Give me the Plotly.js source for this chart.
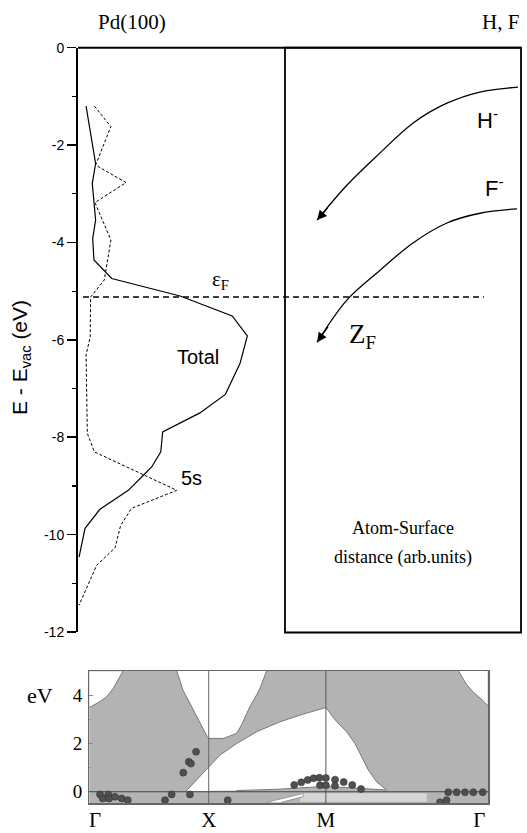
<!DOCTYPE html>
<html><head><meta charset="utf-8">
<script src="https://cdn.plot.ly/plotly-3.0.1.min.js"></script>
<style>html,body{margin:0;padding:0;background:#fff;}#chart{width:527px;height:833px;}</style>
</head><body><div id="chart"></div>
<script>
// ---------- Top panel: Pd(100) local density of states (E - E_vac, eV) ----------
const totalEnergy = [-1.2, -2.38, -2.79, -3.54, -3.92, -4.36, -4.74, -5.10, -5.51, -5.92, -6.48, -7.12, -7.5, -7.89, -8.30, -8.61, -8.78, -9.09, -9.48, -9.87, -10.46];
const totalDos    = [3.9, 8.5, 6.9, 8.5, 7.1, 7.7, 16.3, 49.3, 74.5, 81.8, 78.3, 71.2, 58.9, 40.9, 40.0, 35.6, 31.6, 24.3, 10.6, 3.4, 0.5];
const s5Energy = [-1.2, -1.62, -2.41, -2.77, -3.18, -3.95, -4.77, -5.12, -5.94, -6.31, -7.92, -8.30, -9.09, -9.46, -9.81, -10.27, -10.63, -11.45];
const s5Dos    = [7.9, 15.9, 8.5, 23.2, 8.2, 15.9, 12.7, 6.1, 5.9, 3.9, 4.5, 7.9, 47.7, 25.9, 20.6, 17.9, 9.0, 0.5];
const fermiEnergy = -5.12;
const energyTicks = [0, -2, -4, -6, -8, -10, -12];

// ---------- Right panel: schematic affinity levels vs atom-surface distance ----------
const hDistance = [98.7, 82.6, 68.6, 54.2, 40.3, 26.3, 13.6];
const hLevel    = [-0.81, -0.91, -1.14, -1.55, -2.16, -2.82, -3.54];
const fDistance = [98.3, 82.6, 68.6, 54.2, 40.3, 26.3, 13.6];
const fLevel    = [-3.31, -3.40, -3.60, -4.01, -4.57, -5.18, -6.05];

// ---------- Bottom panel: projected bulk bands of Pd(100) ----------
const kTickVals = [0.03, 1, 2, 3.31];
const kTickText = ['Γ', 'X', 'M', 'Γ'];
const eTickVals = [0, 2, 4];
const eTickText = ['0', '2', '4'];
// band gaps (white regions)
const gapAk = [-0.019, -0.004, 0.073, 0.13, 0.186, 0.229, 0.271, -0.019];
const gapAe = [3.5, 3.53, 3.74, 3.94, 4.29, 4.63, 5.02, 5.02];
const gapBk = [0.727, 0.78, 0.988, 1.0, 1.125, 1.239, 1.28, 1.352, 1.432, 1.495];
const gapBe = [5.02, 4.22, 2.28, 2.21, 2.21, 2.42, 2.77, 3.53, 4.22, 5.02];
const gapCk = [3.13, 3.20, 3.26, 3.315, 3.386, 3.386];
const gapCe = [5.02, 4.45, 4.12, 3.89, 3.55, 5.02];
const gapDk = [0.806, 1.005, 1.096, 1.239, 1.41, 1.608, 1.807, 2.0, 2.092, 2.177, 2.248, 2.305, 2.362, 2.433, 2.519, 2.25, 2.0, 1.81, 1.58, 1.24];
const gapDe = [0.02, 1.07, 1.52, 2.0, 2.49, 2.9, 3.22, 3.49, 2.9, 2.49, 2.0, 1.45, 0.9, 0.41, 0.07, 0.15, 0.22, 0.17, 0.1, 0.05];
const gapEk = [1.495, 1.807, 1.807, 1.62];
const gapEe = [-0.44, -0.07, -0.2, -0.44];
const lightK = [1.78, 2.86, 2.86, 1.78];
const lightE = [-0.06, -0.06, -0.42, -0.42];
// surface states (dots)
const ssK = [0.783, 0.83, 0.848, 0.892,
             1.73, 1.79, 1.845, 1.895, 1.945, 2.0, 2.078, 2.152, 2.225, 2.30,
             1.95, 2.0, 2.078,
             3.044, 3.116, 3.187, 3.258, 3.338, 2.974, 3.03,
             0.073, 0.096, 0.143, 0.15, 0.2, 0.258, 0.309, 0.627, 0.684, 0.84, 1.162];
const ssE = [0.79, 1.24, 1.17, 1.66,
             0.28, 0.39, 0.49, 0.56, 0.58, 0.57, 0.50, 0.40, 0.28, 0.11,
             0.27, 0.27, 0.25,
             -0.02, -0.02, -0.02, -0.02, -0.02, -0.44, -0.35,
             -0.11, -0.28, -0.11, -0.28, -0.21, -0.28, -0.35, -0.35, -0.11, -0.11, -0.35];

// ---------- layout helpers ----------
const W = 527, H = 833;
const fx = p => p / W;
const fy = p => 1 - p / H;
const SANS = 'Liberation Sans, Arial, sans-serif';
const SERIF = 'Liberation Serif, Times New Roman, serif';

const traces = [
  {x: totalDos, y: totalEnergy, xaxis: 'x', yaxis: 'y', mode: 'lines', line: {color: '#000', width: 1.2}},
  {x: s5Dos, y: s5Energy, xaxis: 'x', yaxis: 'y', mode: 'lines', line: {color: '#000', width: 1, dash: '3px,2px'}},
  {x: hDistance, y: hLevel, xaxis: 'x2', yaxis: 'y2', mode: 'lines', line: {color: '#000', width: 1.3, shape: 'spline'}},
  {x: fDistance, y: fLevel, xaxis: 'x2', yaxis: 'y2', mode: 'lines', line: {color: '#000', width: 1.3, shape: 'spline'}},
  {x: lightK, y: lightE, xaxis: 'x3', yaxis: 'y3', mode: 'lines', fill: 'toself', fillcolor: '#d6d6d6', line: {width: 0}},
  {x: gapAk, y: gapAe, xaxis: 'x3', yaxis: 'y3', mode: 'lines', fill: 'toself', fillcolor: '#fff', line: {color: '#777', width: 1}},
  {x: gapBk, y: gapBe, xaxis: 'x3', yaxis: 'y3', mode: 'lines', fill: 'toself', fillcolor: '#fff', line: {color: '#777', width: 1}},
  {x: gapCk, y: gapCe, xaxis: 'x3', yaxis: 'y3', mode: 'lines', fill: 'toself', fillcolor: '#fff', line: {color: '#777', width: 1}},
  {x: gapDk, y: gapDe, xaxis: 'x3', yaxis: 'y3', mode: 'lines', fill: 'toself', fillcolor: '#fff', line: {color: '#777', width: 1}},
  {x: gapEk, y: gapEe, xaxis: 'x3', yaxis: 'y3', mode: 'lines', fill: 'toself', fillcolor: '#fff', line: {color: '#888', width: 0.8}},
  {x: ssK, y: ssE, xaxis: 'x3', yaxis: 'y3', mode: 'markers', marker: {size: 7, color: '#505050', line: {color: '#333', width: 0.6}}}
];

const topDomY = [fy(632), fy(47.7)];
const layout = {
  width: W, height: H, margin: {l: 0, r: 0, t: 0, b: 0},
  paper_bgcolor: '#fff', plot_bgcolor: 'rgba(0,0,0,0)', showlegend: false,
  xaxis: {domain: [fx(78), fx(285)], range: [0, 100], visible: false, fixedrange: true},
  yaxis: {domain: topDomY, range: [-12, 0], anchor: 'x', showgrid: false, zeroline: false,
          showline: true, linewidth: 2, linecolor: '#000',
          ticks: 'outside', ticklen: 9, tickwidth: 1.5, tickcolor: '#000',
          tickvals: energyTicks, ticktext: energyTicks.map(String),
          minor: {dtick: 1, ticks: 'outside', ticklen: 4, tickwidth: 1.2, tickcolor: '#000', showgrid: false},
          tickfont: {family: SANS, size: 14, color: '#000'}},
  xaxis2: {domain: [fx(285), fx(521)], range: [0, 100], visible: false, anchor: 'y2'},
  yaxis2: {domain: topDomY, range: [-12, 0], visible: false, anchor: 'x2'},
  xaxis3: {domain: [fx(89.3), fx(488.3)], range: [-0.019, 3.386], anchor: 'y3',
           showgrid: false, zeroline: false, showline: true, mirror: true, linecolor: '#666', linewidth: 1.2,
           tickvals: kTickVals, ticktext: kTickText, ticks: '', ticklabelstandoff: -3,
           tickfont: {family: SERIF, size: 21, color: '#000'}},
  yaxis3: {domain: [fy(803.3), fy(670.7)], range: [-0.48, 5.02], anchor: 'x3',
           showgrid: false, zeroline: false, showline: true, mirror: true, linecolor: '#666', linewidth: 1.2,
           tickvals: eTickVals, ticktext: eTickText, ticks: 'inside', ticklen: 4, tickcolor: '#888',
           minor: {dtick: 1, ticks: 'inside', ticklen: 3, tickcolor: '#999', showgrid: false},
           ticklabelstandoff: 2,
           tickfont: {family: SERIF, size: 19, color: '#000'}},
  shapes: [
    // grey bulk-band background of bottom panel
    {type: 'rect', xref: 'x3 domain', yref: 'y3 domain', x0: 0, x1: 1, y0: 0, y1: 1,
     fillcolor: '#b3b3b3', line: {width: 0}, layer: 'below'},
    {type: 'line', xref: 'x3', yref: 'y3 domain', x0: 1, x1: 1, y0: 0, y1: 1, line: {color: '#666', width: 1}},
    {type: 'line', xref: 'x3', yref: 'y3 domain', x0: 2, x1: 2, y0: 0, y1: 1, line: {color: '#555', width: 1}},
    {type: 'line', xref: 'x3 domain', yref: 'y3', x0: 0, x1: 1, y0: 0, y1: 0, line: {color: '#444', width: 1.2}},
    // top frame line and right box
    {type: 'line', xref: 'paper', yref: 'paper', x0: fx(78), x1: fx(521), y0: fy(47.7), y1: fy(47.7), line: {color: '#000', width: 2}},
    {type: 'rect', xref: 'paper', yref: 'paper', x0: fx(285), x1: fx(521), y0: fy(632.5), y1: fy(47.7), line: {color: '#000', width: 1.8}},
    // Fermi level
    {type: 'line', xref: 'paper', yref: 'y', x0: fx(83), x1: fx(484), y0: fermiEnergy, y1: fermiEnergy,
     line: {color: '#000', width: 1.3, dash: '6px,4px'}}
  ],
  annotations: []
};

function txt(text, x, y, size, family, extra) {
  layout.annotations.push(Object.assign({text: text, xref: 'paper', yref: 'paper', x: fx(x), y: fy(y),
    showarrow: false, xanchor: 'center', yanchor: 'middle', font: {family: family, size: size, color: '#000'}}, extra || {}));
}
function arrowHead(xs, ys) {
  const n = xs.length;
  layout.annotations.push({xref: 'x2', yref: 'y2', axref: 'x2', ayref: 'y2', x: xs[n - 1], y: ys[n - 1],
    ax: xs[n - 2] + (xs[n - 1] - xs[n - 2]) * 0.6, ay: ys[n - 2] + (ys[n - 1] - ys[n - 2]) * 0.6,
    text: '', showarrow: true, arrowhead: 2, arrowsize: 1.6, arrowwidth: 1.2, arrowcolor: '#000', standoff: 0});
}
arrowHead(hDistance, hLevel);
arrowHead(fDistance, fLevel);

txt('Pd(100)', 132, 22, 21, SERIF);
txt('H, F', 500, 22, 21, SERIF);
txt('E - E<sub>vac</sub> (eV)', 21, 358, 21, SANS, {textangle: -90});
txt('ε<sub>F</sub>', 220, 280, 21, SERIF);
txt('Total', 198, 357, 20, SANS);
txt('5s', 191, 478, 20, SANS);
txt('H<sup>-</sup>', 487, 119, 22, SANS);
txt('F<sup>-</sup>', 494, 187, 22, SANS);
txt('Z<sub>F</sub>', 362, 336, 27, SERIF);
txt('Atom-Surface', 403, 528, 18, SERIF);
txt('distance (arb.units)', 403, 557, 18, SERIF);
txt('eV', 40, 695, 22, SERIF);

Plotly.newPlot('chart', traces, layout, {staticPlot: true, displayModeBar: false});
</script>
</body></html>
